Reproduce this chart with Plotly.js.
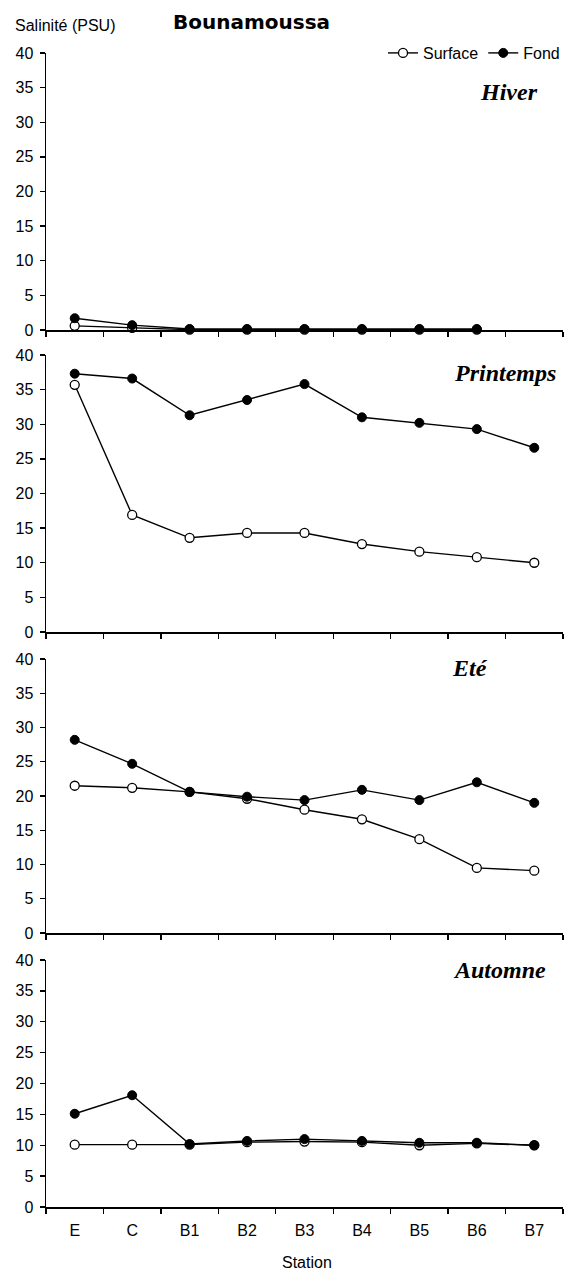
<!DOCTYPE html>
<html>
<head>
<meta charset="utf-8">
<script src="https://cdn.plot.ly/plotly-3.0.1.min.js"></script>
<style>html,body{margin:0;padding:0;background:#fff;} #chart{width:565px;height:1275px;}</style>
</head>
<body>
<div id="chart"></div>
<script>
// ---- data ----
var stations = ['E', 'C', 'B1', 'B2', 'B3', 'B4', 'B5', 'B6', 'B7'];
var seasons = ['Hiver', 'Printemps', 'Eté', 'Automne'];
var hiverSurface = [0.6, 0.3, 0.05, 0.05, 0.05, 0.05, 0.05, 0.05, null];
var hiverFond = [1.7, 0.7, 0.15, 0.15, 0.15, 0.15, 0.15, 0.15, null];
var printempsSurface = [35.7, 16.9, 13.6, 14.3, 14.3, 12.7, 11.6, 10.8, 10.0];
var printempsFond = [37.3, 36.6, 31.3, 33.5, 35.8, 31.0, 30.2, 29.3, 26.6];
var eteSurface = [21.5, 21.2, 20.6, 19.6, 18.0, 16.6, 13.7, 9.5, 9.1];
var eteFond = [28.2, 24.7, 20.6, 19.9, 19.4, 20.9, 19.4, 22.0, 19.0];
var automneSurface = [10.1, 10.1, 10.1, 10.5, 10.6, 10.5, 10.0, 10.3, 10.0];
var automneFond = [15.1, 18.1, 10.2, 10.7, 11.0, 10.7, 10.4, 10.4, 10.0];
var yTicks = [0, 5, 10, 15, 20, 25, 30, 35, 40];

var surfaceSets = [hiverSurface, printempsSurface, eteSurface, automneSurface];
var fondSets = [hiverFond, printempsFond, eteFond, automneFond];

// ---- layout geometry ----
var W = 565, H = 1275;
var xDom = [46 / W, 563 / W];
var panelPx = [[53, 330], [355, 632], [659, 933], [960, 1207]];
var seasonPos = [[478, 92], [452, 373], [450, 668], [451, 970]];

var FONT = 'Liberation Sans, Arial, sans-serif';
var traces = [];
var layout = {
  width: W, height: H,
  margin: {l: 0, r: 0, t: 0, b: 0},
  paper_bgcolor: '#fff', plot_bgcolor: 'rgba(0,0,0,0)',
  font: {family: FONT, size: 16, color: '#000'},
  showlegend: true,
  legend: {
    orientation: 'h', x: 1, xanchor: 'right', y: 1 - 53 / H, yanchor: 'middle',
    font: {family: FONT, size: 16, color: '#000'}, bgcolor: 'rgba(0,0,0,0)',
    itemwidth: 30, tracegroupgap: 0
  },
  annotations: [],
  hovermode: false
};

for (var i = 0; i < 4; i++) {
  var ax = i === 0 ? '' : String(i + 1);
  var xa = 'x' + ax, ya = 'y' + ax;
  traces.push({
    x: stations, y: surfaceSets[i], xaxis: xa, yaxis: ya, name: 'Surface',
    type: 'scatter', mode: 'lines+markers', cliponaxis: false, showlegend: i === 0,
    legendrank: 1,
    line: {color: '#000', width: 1.4},
    marker: {symbol: 'circle', size: 9, color: '#fff', line: {color: '#000', width: 1.3}}
  });
  traces.push({
    x: stations, y: fondSets[i], xaxis: xa, yaxis: ya, name: 'Fond',
    type: 'scatter', mode: 'lines+markers', cliponaxis: false, showlegend: i === 0,
    legendrank: 2,
    line: {color: '#000', width: 1.4},
    marker: {symbol: 'circle', size: 9, color: '#000', line: {color: '#000', width: 1}}
  });
  var p = panelPx[i];
  layout['xaxis' + ax] = {
    domain: xDom, anchor: ya, type: 'category', categoryorder: 'array', categoryarray: stations,
    range: [-0.5, 8.5], tickson: 'boundaries', ticks: 'outside', ticklen: 5, tickwidth: 1.3,
    tickcolor: '#000', showline: true, linecolor: '#000', linewidth: 1.7,
    showgrid: false, zeroline: false, showticklabels: i === 3, ticklabelstandoff: 8,
    tickfont: {family: FONT, size: 16, color: '#000'}, fixedrange: true
  };
  layout['yaxis' + ax] = {
    domain: [1 - p[1] / H, 1 - p[0] / H], anchor: xa, range: [0, 40],
    tickvals: yTicks, ticks: 'outside', ticklen: 5, tickwidth: 1.3, tickcolor: '#000',
    showline: true, linecolor: '#000', linewidth: 1.5, showgrid: false, zeroline: false,
    ticklabelstandoff: 3,
    tickfont: {family: FONT, size: 16, color: '#000'}, fixedrange: true
  };
  layout.annotations.push({
    text: seasons[i], xref: 'paper', yref: 'paper',
    x: seasonPos[i][0] / W, y: 1 - seasonPos[i][1] / H, xanchor: 'left', yanchor: 'middle',
    showarrow: false,
    font: {family: 'Liberation Serif, Times New Roman, serif', size: 24, color: '#000', weight: 'bold', style: 'italic'}
  });
}

layout.annotations.push({
  text: 'Salinité (PSU)', xref: 'paper', yref: 'paper', x: 13 / W, y: 1 - 25 / H,
  xanchor: 'left', yanchor: 'middle', showarrow: false, font: {family: FONT, size: 16, color: '#000'}
});
layout.annotations.push({
  text: '<b>Bounamoussa</b>', xref: 'paper', yref: 'paper', x: 251 / W, y: 1 - 22 / H,
  xanchor: 'center', yanchor: 'middle', showarrow: false,
  font: {family: 'DejaVu Sans, Verdana, sans-serif', size: 20, color: '#000'}
});
layout.annotations.push({
  text: 'Station', xref: 'paper', yref: 'paper', x: 307 / W, y: 1 - 1262 / H,
  xanchor: 'center', yanchor: 'middle', showarrow: false, font: {family: FONT, size: 16, color: '#000'}
});

Plotly.newPlot('chart', traces, layout, {displayModeBar: false, staticPlot: true});
</script>
</body>
</html>
